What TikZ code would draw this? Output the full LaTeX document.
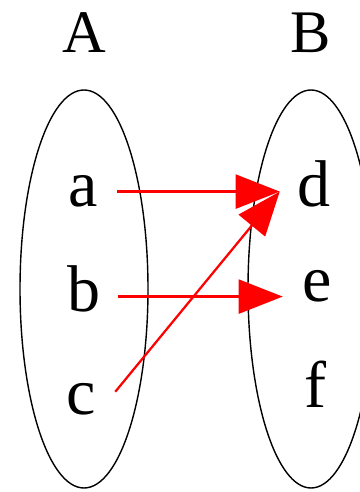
\documentclass[tikz,border=0pt]{standalone}
\usepackage{fontspec}
\setmainfont{Liberation Serif}
\usetikzlibrary{positioning,arrows.meta,shapes.geometric,calc}

\begin{document}
\begin{tikzpicture}[
  setbox/.style={draw, ellipse, line width=1pt, inner sep=0pt},
  title/.style={font=\fontsize{43}{50}\selectfont},
  elem/.style={font=\fontsize{47}{55}\selectfont, anchor=base,
               text height=0.77cm, text depth=0pt,
               minimum width=1.7cm, inner sep=0pt},
  arr/.style={draw=red, line width=1.6pt,
              -{Triangle[length=1.1cm, width=0.85cm]}}
]
\useasboundingbox (0,0) rectangle (8.975,12.3);
% the two sets
\node[setbox, minimum width=3.2cm, minimum height=9.95cm] (setA) at (2.1,5.075) {};
\node[setbox, minimum width=3.15cm, minimum height=9.95cm] (setB) at (7.775,5.075) {};
\node[title] (nameA) at (2.1,11.475) {A};
\node[title] (nameB) at (7.775,11.475) {B};
% elements
\node[elem] (a) at (2.075,7.125) {a};
\node[elem] (b) at (2.1,4.5) {b};
\node[elem] (c) at (2.025,1.925) {c};
\node[elem] (d) at (7.85,7.125) {d};
\node[elem] (e) at (7.925,4.75) {e};
\node[elem] (f) at (7.875,2.1) {f};
% mapping
\draw[arr] (a) -- (a -| d.west);
\draw[arr] (b) -- (b -| e.west);
\draw[arr] ($(c.east)!0.5!(c.north east)$) -- (d.west);
\end{tikzpicture}
\end{document}
